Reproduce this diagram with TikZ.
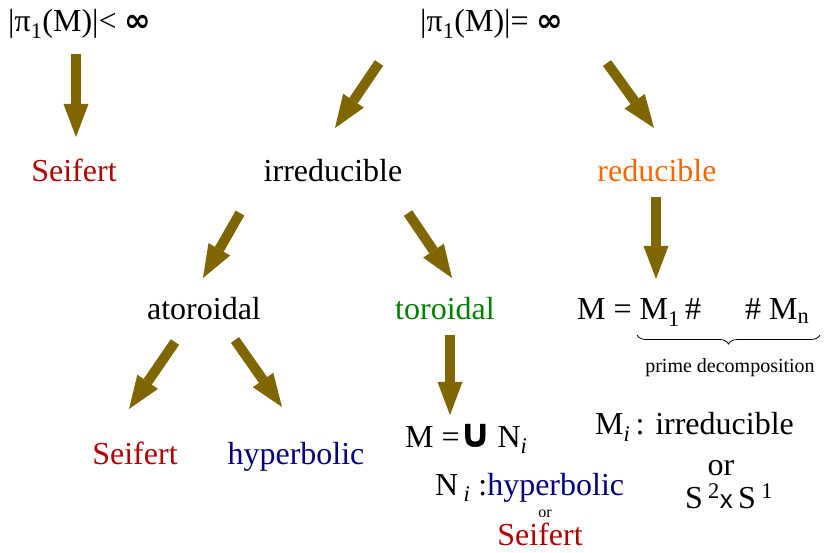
\documentclass[tikz,border=0pt]{standalone}
\usepackage{fontspec}
\setmainfont{Liberation Serif}
\newfontfamily\symf{DejaVu Sans}
\newfontfamily\sansf{Liberation Sans}
\usepackage{tikz}
\usetikzlibrary{arrows.meta,decorations.pathreplacing}

\definecolor{arrowc}{RGB}{128,102,0}
\definecolor{seired}{RGB}{176,0,0}
\definecolor{redorange}{RGB}{255,102,0}
\definecolor{torgreen}{RGB}{0,128,0}
\definecolor{hypblue}{RGB}{0,0,128}

\begin{document}
\begin{tikzpicture}[
    x=1pt, y=-1pt,
    font=\fontsize{32}{38}\selectfont,
    txt/.style  = {inner sep=0pt, anchor=base},
    txtl/.style = {txt, anchor=base west},
    ar/.style   = {draw=arrowc, line width=10pt,
                   -{Triangle[width=25pt,length=33pt,line width=0pt]}},
    brc/.style  = {decorate, decoration={brace,mirror,amplitude=9pt},
                   line width=0.8pt},
]
\useasboundingbox (0,0) rectangle (825,553);

%--- top level
\node[txtl] (fin) at (8,32)   {|π\textsubscript{1}(M)|< {\symf\bfseries ∞}};
\node[txtl] (inf) at (420,32) {|π\textsubscript{1}(M)|= {\symf\bfseries ∞}};

%--- second level
\node[txt, text=seired]    (sei1) at (74,182)  {Seifert};
\node[txt]                 (irr)  at (333,182) {irreducible};
\node[txt, text=redorange] (red)  at (657,182) {reducible};

%--- third level
\node[txt]                (ator) at (204,320) {atoroidal};
\node[txt, text=torgreen] (tor)  at (445,320) {toroidal};
\node[txtl] (dec) at (577,320)
      {M = M\textsubscript{1}\,\#\hspace{44pt}\# M\textsubscript{n}};
\coordinate (bl) at (637,335);
\coordinate (br) at (820,335);
\draw[brc] (bl) -- (br);
\node[txt, font=\fontsize{20}{24}\selectfont] (prime) at (730,373)
      {prime decomposition};

%--- bottom level
\node[txt, text=seired]  (sei2) at (135,464) {Seifert};
\node[txt, text=hypblue] (hyp)  at (296,464) {hyperbolic};
\node[txtl] (uni) at (405,447)
      {M ={\symf\bfseries\fontsize{40}{40}\selectfont ∪}\,N\textsubscript{\itshape i}};
\node[txtl] (nic) at (435,495)
      {N\,\textsubscript{\itshape i} :{\color{hypblue}hyperbolic}};
\node[txt, font=\fontsize{16}{18}\selectfont] (or1) at (545,517) {or};
\node[txt, text=seired] (sei3) at (540,545) {Seifert};
\node[txtl] (mic) at (595,435) {M\textsubscript{\itshape i}\,: irreducible};
\node[txt] (or2) at (721,475) {or};
\node[txt] (s2s1) at (729,508)
      {S\,\textsuperscript{2}{\sansf\fontsize{26}{30}\selectfont x}\,S\,\textsuperscript{1}};

%--- arrow ends
\coordinate (s1) at (76,54);   \coordinate (t1) at (76,137);
\coordinate (s2) at (379,63);  \coordinate (t2) at (335,128);
\coordinate (s3) at (607,63);  \coordinate (t3) at (654,128);
\coordinate (s4) at (240,213); \coordinate (t4) at (203,278);
\coordinate (s5) at (408,213); \coordinate (t5) at (452,278);
\coordinate (s6) at (656,197); \coordinate (t6) at (656,279);
\coordinate (s7) at (175,342); \coordinate (t7) at (129,409);
\coordinate (s8) at (235,340); \coordinate (t8) at (282,407);
\coordinate (s9) at (450,335); \coordinate (t9) at (450,415);

%--- arrows
\foreach \i in {1,...,9}
  \draw[ar] (s\i) -- (t\i);

\end{tikzpicture}
\end{document}
